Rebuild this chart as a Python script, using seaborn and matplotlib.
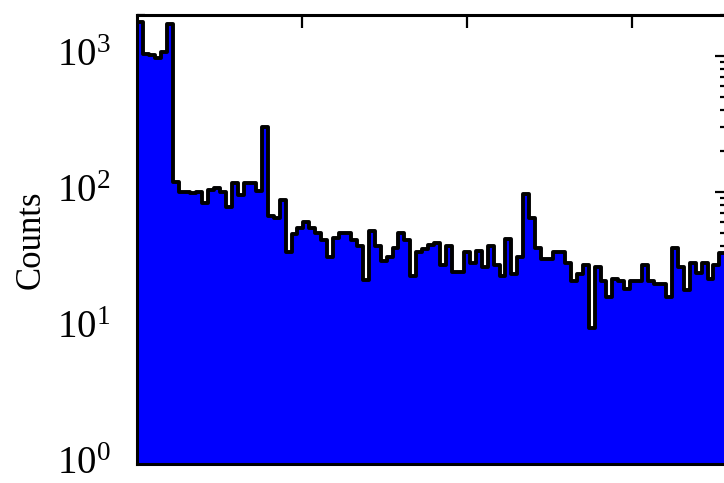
import numpy as np
import pandas as pd
import matplotlib
matplotlib.use("Agg")
import matplotlib.pyplot as plt
import matplotlib.transforms as mtransforms
import seaborn as sns
from matplotlib.ticker import LogLocator, NullFormatter, FixedLocator

# ------------------------------
# Histogram data (counts per bin)
# ------------------------------
n_bins = 100
bin_width = 0.036
x_max = 3.58

counts = [
    1790, 1030, 1020, 970, 1075, 1720, 118, 100, 100, 98,
    100, 83, 103, 107, 100, 78, 117, 95, 116, 116,
    102, 302, 67, 64, 88, 36, 49, 54, 60, 54,
    50, 44, 33, 46, 50, 50, 44, 40, 22.5, 52,
    40, 31, 33, 39, 50, 44, 24, 36, 38, 41,
    42, 29, 40, 26, 26, 36, 30, 37, 28, 40,
    29, 24, 45, 25, 33, 96, 64, 39, 32, 32,
    36, 36, 30, 22, 25, 29, 10, 28, 22, 17,
    23, 22, 19.5, 22, 22, 29, 22, 21, 21, 17,
    38.6, 28, 19, 30, 25.5, 30, 23, 29, 35.6, 36,
]

x_ticks = [1, 2, 3]
y_label = "Counts"

df = pd.DataFrame({
    "center": (np.arange(n_bins) + 0.5) * bin_width,
    "count": counts,
})
bin_range = (0, n_bins * bin_width)

# ------------------------------
# Style
# ------------------------------
sns.set_style("ticks")
plt.rcParams["font.family"] = ["Liberation Serif", "DejaVu Serif"]
plt.rcParams["mathtext.fontset"] = "stix"
plt.rcParams["text.color"] = "black"
plt.rcParams["axes.labelcolor"] = "black"
plt.rcParams["xtick.color"] = "black"
plt.rcParams["ytick.color"] = "black"

fig = plt.figure(figsize=(7.24, 4.83), dpi=100)
ax = fig.add_axes([137 / 724, 19 / 483, 591 / 724, 449 / 483])
ax.set_yscale("log")

# blue filled histogram
sns.histplot(data=df, x="center", weights="count", binwidth=bin_width,
             binrange=bin_range, element="step", fill=True,
             color="#0000ff", alpha=1, linewidth=0, ax=ax)
# black outline
sns.histplot(data=df, x="center", weights="count", binwidth=bin_width,
             binrange=bin_range, element="step", fill=False,
             color="black", linewidth=2.8, ax=ax)

ax.set_xlim(0, x_max)
ax.set_ylim(1, 2000)

ax.xaxis.set_major_locator(FixedLocator(x_ticks))
ax.set_xticklabels([])
ax.yaxis.set_major_locator(LogLocator(base=10, numticks=10))
ax.yaxis.set_minor_locator(LogLocator(base=10, subs=np.arange(2, 10), numticks=20))
ax.yaxis.set_minor_formatter(NullFormatter())

ax.tick_params(which="both", direction="in", top=True, right=True, width=1.6)
ax.tick_params(which="major", length=9.5)
ax.tick_params(which="minor", length=5.5)
ax.tick_params(axis="y", which="major", labelsize=28, pad=19,
               labelcolor="black")
ax.tick_params(axis="x", which="minor", bottom=False, top=False)

# nudge the y tick labels up a little, as in the original
shift = mtransforms.ScaledTranslation(0, 3 / 72, fig.dpi_scale_trans)
for lbl in ax.get_yticklabels():
    lbl.set_transform(lbl.get_transform() + shift)

for spine in ax.spines.values():
    spine.set_linewidth(2.2)
    spine.set_color("black")

ax.set_xlabel("")
ax.set_ylabel(y_label, fontsize=25, color="black")
ax.yaxis.set_label_coords(-0.152, 0.5)

fig.savefig("out.png", dpi=100)
